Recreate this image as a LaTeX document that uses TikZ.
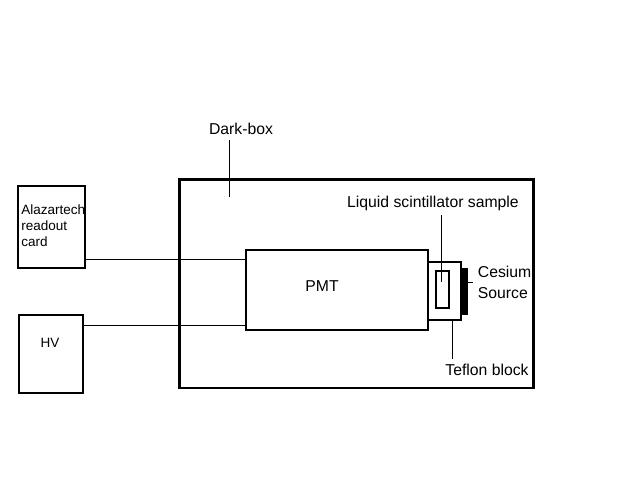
\documentclass[tikz,border=0pt]{standalone}
\usepackage{fontspec}
\setmainfont{Liberation Sans}
\usetikzlibrary{positioning,calc}
\begin{document}
\begin{tikzpicture}[x=0.025cm,y=0.025cm,
  every node/.style={font=\fontsize{11.2}{15}\selectfont},
  box/.style={draw,inner sep=0pt,outer sep=0pt},
  wire/.style={line width=0.7pt}]
\useasboundingbox (0,0) rectangle (640,480);
% dark box with the detector inside
\node[box,line width=2.1pt,minimum width=8.825cm,minimum height=5.2cm] (dark) at (356.5,196) {};
\node[box,line width=1.9pt,minimum width=4.55cm,minimum height=2cm] (pmt) at (337,190) {};
\node (pmtlbl) at (322,194) {PMT};
\node[box,line width=1.9pt,minimum width=0.825cm,minimum height=1.45cm,anchor=west] (teflon) at (pmt.east |- 0,189) {};
\node[box,line width=1.9pt,minimum width=0.325cm,minimum height=0.925cm] (sample) at (442.5,190.5) {};
\node[box,fill=black,minimum width=0.15cm,minimum height=1.15cm,anchor=west] (cesium) at (teflon.east) {};
% labels and their leaders
\node (darklbl) at (241,351) {Dark-box};
\draw[wire] (darklbl.south -| 229,0) -- (229,283);
\node (samplbl) at (433,277) {Liquid scintillator sample};
\draw[wire] (samplbl.south -| 441,0) -- (441,198);
\node[anchor=west,align=left] (cslbl) at (473,198) {Cesium\\Source};
\draw[wire] (cesium.east |- 0,198) -- (cslbl.west |- 0,198);
\node (teflbl) at (487,110) {Teflon block};
\draw[wire] (teflon.south -| 452,0) -- (teflbl.north -| 452,0);
% outside the dark box
\node[box,line width=1.1pt,minimum width=1.675cm,minimum height=2.05cm] (alaz) at (51.5,253) {};
\node[anchor=north west,align=left,inner sep=0pt,font=\fontsize{9.6}{11.7}\selectfont] (alazlbl) at (21,276) {Alazartech\\readout\\card};
\node[box,line width=1.1pt,minimum width=1.6cm,minimum height=1.95cm] (hv) at (51,126) {};
\node[font=\fontsize{9.6}{12}\selectfont] (hvlbl) at (50,137) {HV};
% cables
\coordinate (sig) at (alaz.east |- 0,221);
\coordinate (pwr) at (hv.east |- 0,155);
\draw[wire] (sig) -- (sig -| pmt.west);
\draw[wire] (pwr) -- (pwr -| pmt.west);
\end{tikzpicture}
\end{document}
